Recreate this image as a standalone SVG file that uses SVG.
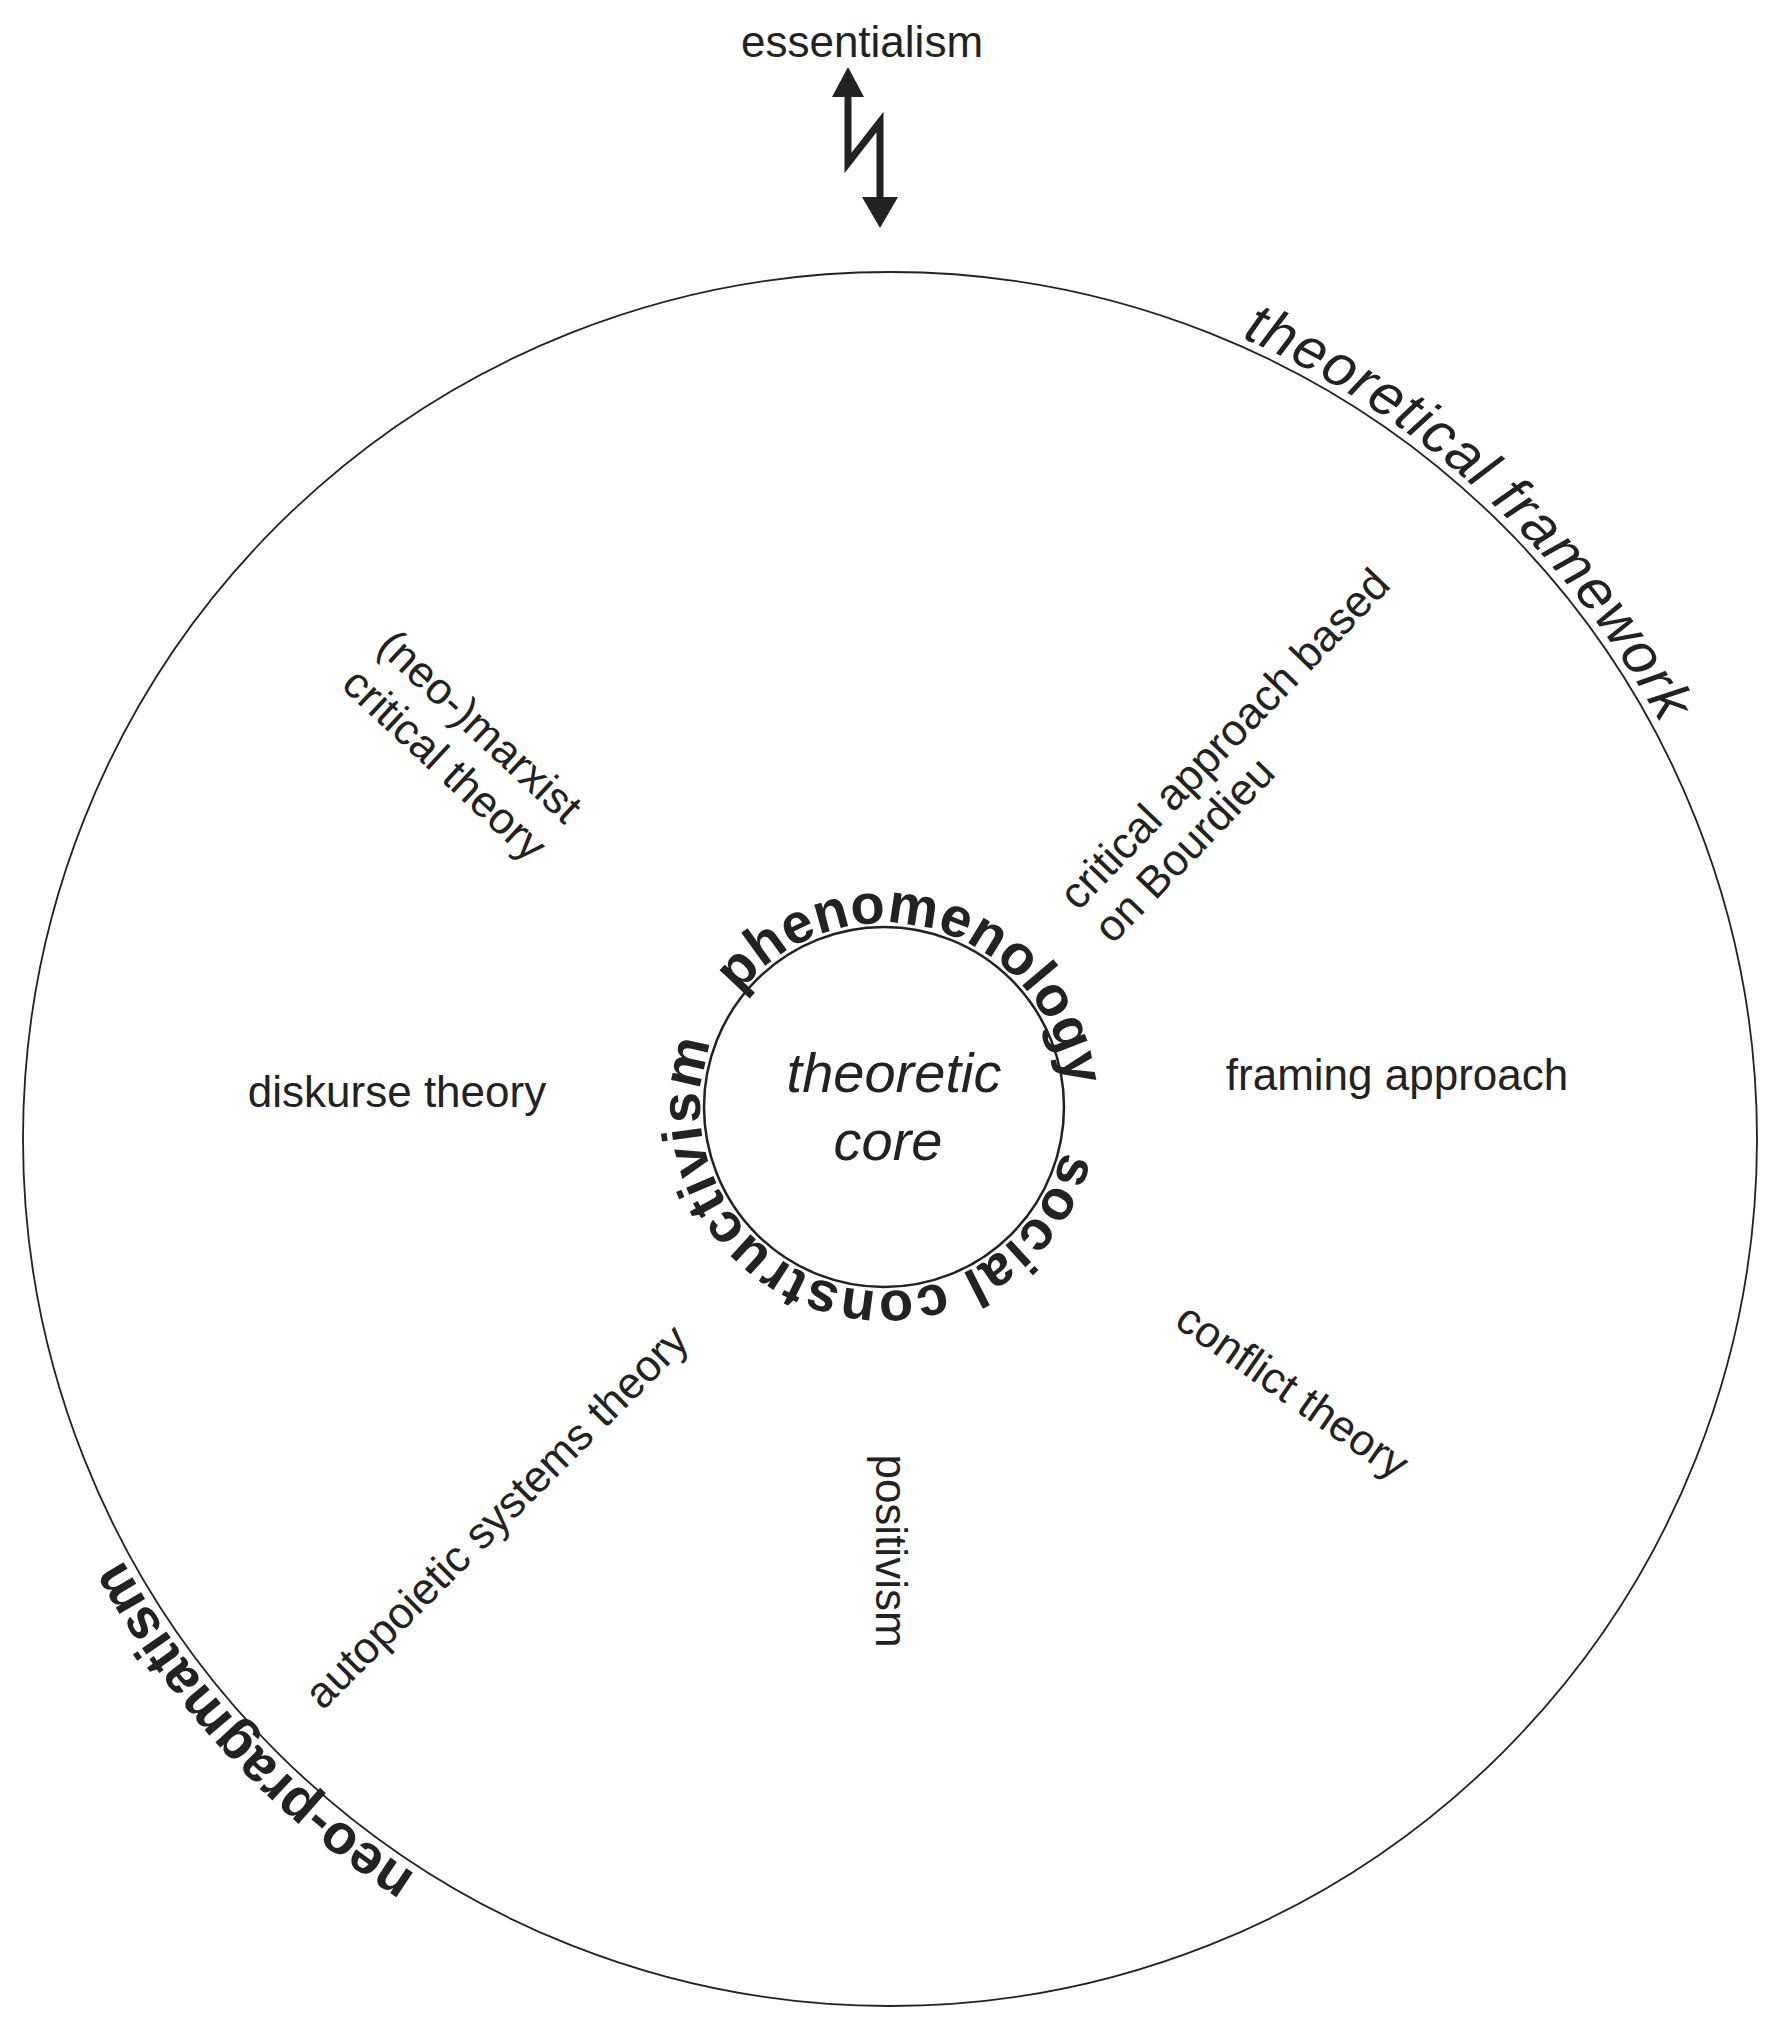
<svg xmlns="http://www.w3.org/2000/svg" width="1780" height="2033" viewBox="0 0 1780 2033">
<style>
text{font-family:"Liberation Sans",Arial,sans-serif;fill:#222;}
.lbl{font-size:44px;}
.bold{font-weight:bold;font-size:56px;}
</style>
<defs>
<path id="inner" d="M739 993.7 A184 184 0 1 1 1029 1220.3 A184 184 0 1 1 739 993.7"/>
<path id="outer" d="M890 264 A875 875 0 1 1 890 2014 A875 875 0 1 1 890 264"/>
</defs>
<rect width="1780" height="2033" fill="#fff"/>
<g id="connectors">
<polyline points="848,95 848,163 880,122 880,200" fill="none" stroke="#222" stroke-width="7" stroke-linejoin="miter"/>
<polygon points="848,67 832,97 864,97" fill="#222"/>
<polygon points="880,228 862,197 898,197" fill="#222"/>
</g>
<g id="essentialism"><text class="lbl" x="862" y="57" text-anchor="middle">essentialism</text></g>
<g id="framework">
<circle cx="890" cy="1139" r="867" fill="none" stroke="#222" stroke-width="1.8"/>
<text font-style="italic" font-size="58"><textPath href="#outer" startOffset="362" textLength="580" lengthAdjust="spacing">theoretical framework</textPath></text>
<text class="bold" font-size="62"><textPath href="#outer" startOffset="3250">neo-pragmatism</textPath></text>
</g>
<g id="core">
<circle cx="884" cy="1107" r="180" fill="none" stroke="#222" stroke-width="2.5"/>
<text class="bold"><textPath href="#inner" startOffset="0" textLength="435" lengthAdjust="spacing">phenomenology</textPath></text>
<text class="bold"><textPath href="#inner" startOffset="500" textLength="600" lengthAdjust="spacing">social constructivism</textPath></text>
<text x="894" y="1092" text-anchor="middle" font-style="italic" font-size="56">theoretic</text>
<text x="888" y="1160" text-anchor="middle" font-style="italic" font-size="56">core</text>
</g>
<g id="diskurse"><text class="lbl" x="397" y="1107" text-anchor="middle">diskurse theory</text></g>
<g id="framing"><text class="lbl" x="1397" y="1090" text-anchor="middle">framing approach</text></g>
<g id="marxist" transform="translate(470,737) rotate(43)">
<text class="lbl" x="0" y="0" text-anchor="middle">(neo-)marxist</text>
<text class="lbl" x="0" y="52" text-anchor="middle">critical theory</text>
</g>
<g id="bourdieu" transform="translate(1078,912) rotate(-46)">
<text class="lbl" x="0" y="0">critical approach based</text>
<text class="lbl" x="0" y="48">on Bourdieu</text>
</g>
<g id="conflict"><text class="lbl" transform="translate(1284,1403) rotate(35)" text-anchor="middle">conflict theory</text></g>
<g id="positivism"><text class="lbl" transform="translate(876,1551) rotate(90)" text-anchor="middle">positivism</text></g>
<g id="autopoietic"><text class="lbl" transform="translate(507,1527) rotate(-45)" text-anchor="middle">autopoietic systems theory</text></g>
</svg>
